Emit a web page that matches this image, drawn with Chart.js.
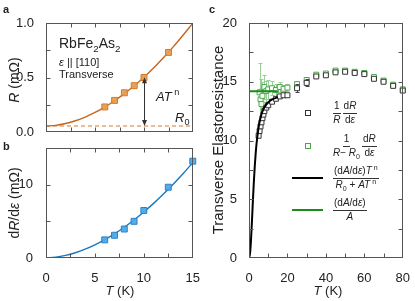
<!DOCTYPE html>
<html><head><meta charset="utf-8">
<script src="https://cdn.jsdelivr.net/npm/chart.js@4.4.1/dist/chart.umd.min.js"></script>
<style>
html,body{margin:0;padding:0;background:#fff;}
body{width:415px;height:301px;position:relative;overflow:hidden;font-family:"Liberation Sans",Arial,sans-serif;color:#222;}
.box{position:absolute;}
.t{position:absolute;white-space:nowrap;line-height:1;font-weight:normal;}
.rt{position:absolute;width:240px;height:16px;line-height:16px;text-align:center;white-space:nowrap;transform:rotate(-90deg);font-weight:normal;}
.ctr{transform:translate(-50%,-50%);}
.vc{transform:translateY(-50%);}
i{font-style:italic;}
sub,sup{font-size:0.7em;line-height:0;}
.fr{display:inline-flex;flex-direction:column;align-items:center;vertical-align:middle;margin-right:2px;}
.fr .n{border-bottom:1px solid #333;padding:0 1px 1px 1px;line-height:1.05;}
.fr .d{line-height:1.05;padding-top:1px;}
.sw{position:absolute;}
</style></head>
<body>
<div class="box" style="left:0;top:0;width:205px;height:145px"><canvas id="ca"></canvas></div>
<div class="box" style="left:0;top:135px;width:205px;height:166px"><canvas id="cb"></canvas></div>
<div class="box" style="left:205px;top:0;width:210px;height:301px"><canvas id="cc"></canvas></div>

<!-- panel labels -->
<div class="t" style="left:3px;top:4px;font-weight:bold;font-size:11px">a</div>
<div class="t" style="left:3px;top:141px;font-weight:bold;font-size:11px">b</div>
<div class="t" style="left:209px;top:4px;font-weight:bold;font-size:11px">c</div>

<!-- panel a annotations -->
<div class="t vc" style="left:59px;top:43px;font-size:14px">RbFe<sub>2</sub>As<sub>2</sub></div>
<div class="t vc" style="left:59px;top:62px;font-size:11px"><i>ε</i> || [110]</div>
<div class="t vc" style="left:59px;top:74px;font-size:11px">Transverse</div>
<div class="t vc" style="left:156px;top:96px;font-size:13px"><i>AT</i><sup> n</sup></div>
<div class="t vc" style="left:175px;top:117px;font-size:13px"><i>R</i><sub>0</sub></div>

<!-- axis titles (rotated boxes centred on integer points) -->
<div class="rt" style="left:-106px;top:72px;font-size:14px"><i>R</i> (mΩ)</div>
<div class="rt" style="left:-106px;top:195px;font-size:14px">d<i>R</i>/d<i>ε</i> (mΩ)</div>
<div class="t ctr" style="left:120px;top:290px;font-size:13px"><i>T</i> (K)</div>
<div class="rt" style="left:98px;top:132px;font-size:15px">Transverse Elastoresistance</div>
<div class="t ctr" style="left:328px;top:290px;font-size:13px"><i>T</i> (K)</div>

<!-- panel c legend -->
<div class="sw" style="left:305px;top:110px;width:4px;height:4px;border:1px solid #333"></div>
<div class="t vc" style="left:333px;top:113px;font-size:10px"><span class="fr"><span class="n">1</span><span class="d"><i>R</i></span></span><span class="fr"><span class="n">d<i>R</i></span><span class="d">d<i>ε</i></span></span></div>
<div class="sw" style="left:305px;top:143px;width:4px;height:4px;border:1px solid #4aa84a"></div>
<div class="t vc" style="left:333px;top:146px;font-size:10px"><span class="fr"><span class="n">1</span><span class="d"><i>R</i>− <i>R</i><sub>0</sub></span></span><span class="fr"><span class="n">d<i>R</i></span><span class="d">d<i>ε</i></span></span></div>
<div class="sw" style="left:292px;top:177px;width:31px;height:2px;background:#000"></div>
<div class="t vc" style="left:333px;top:178px;font-size:10px"><span class="fr"><span class="n">(d<i>A</i>/d<i>ε</i>)<i>T</i><sup> n</sup></span><span class="d"><i>R</i><sub>0</sub> + <i>AT</i><sup> n</sup></span></span></div>
<div class="sw" style="left:292px;top:209px;width:31px;height:2px;background:#1a8c1a"></div>
<div class="t vc" style="left:333px;top:210px;font-size:10px"><span class="fr"><span class="n">(d<i>A</i>/d<i>ε</i>)</span><span class="d"><i>A</i></span></span></div>

<script>
// ---------------- data ----------------
// panel a: resistance R (mΩ) vs T (K)
const aT = [6, 7, 8, 9, 10, 12.5];
const aR = [0.23, 0.29, 0.36, 0.425, 0.50, 0.73];
const aFitT = [0, 1, 2, 3, 4, 5, 6, 7, 8, 9, 10, 11, 12, 13, 14, 15];
const aFitR = [0.055, 0.061, 0.078, 0.103, 0.137, 0.179, 0.229, 0.287, 0.352, 0.424, 0.503, 0.589, 0.683, 0.783, 0.890, 1.0];
const aR0 = 0.055;
const aArrowT = 10;

// panel b: dR/dε (mΩ) vs T (K)
const bT = [6, 7, 8, 9, 10, 12.5, 15];
const bV = [2.47, 3.1, 3.95, 5.0, 6.48, 9.65, 13.2];
const bFitT = [0, 1, 2, 3, 4, 5, 6, 7, 8, 9, 10, 11, 12, 13, 14, 15];
const bFitV = [0, 0.10, 0.35, 0.72, 1.21, 1.80, 2.51, 3.30, 4.20, 5.19, 6.28, 7.45, 8.72, 10.07, 11.50, 13.0];
const bZero = 0;

// panel c: transverse elastoresistance vs T (K)
const cBlackT   = [5, 5.5, 6, 6.5, 7, 7.5, 8, 9, 10, 12, 14, 16, 18, 20, 25, 30, 35, 40, 45, 50, 55, 60, 65, 70, 75, 80];
const cBlackV   = [10.4, 10.8, 11.2, 11.55, 11.9, 12.2, 12.5, 12.8, 13.0, 13.3, 13.55, 13.75, 13.85, 13.85, 14.45, 14.9, 15.45, 15.55, 15.8, 15.85, 15.75, 15.65, 15.25, 15.0, 14.65, 14.25];
const cBlackErr = [0, 0, 0, 0, 0, 0, 0, 0, 0, 0, 0, 0, 0, 0, 0.35, 0.3, 0, 0, 0, 0, 0, 0, 0, 0, 0, 0];
const cGreenT   = [5.5, 6, 6.5, 7, 8, 9, 10, 12, 14, 16, 18, 20, 25, 30, 35, 40, 45, 50, 55, 60, 65, 70, 75, 80];
const cGreenV   = [14.1, 13.5, 13.1, 13.8, 14.55, 14.2, 14.35, 14.45, 14.3, 14.55, 14.4, 14.5, 14.8, 15.15, 15.6, 15.7, 15.95, 15.95, 15.85, 15.75, 15.4, 15.1, 14.75, 14.35];
const cGreenErr = [2.5, 1.7, 1.4, 1.2, 1.0, 0.9, 0.8, 0.6, 0.5, 0.4, 0.35, 0.3, 0.3, 0.25, 0, 0, 0, 0, 0, 0, 0, 0, 0, 0];
const cFitT = [0, 0.5, 1, 1.5, 2, 2.5, 3, 3.5, 4, 5, 6, 7, 8, 10, 12, 15];
const cFitV = [0, 0.34, 1.42, 3.02, 4.77, 6.41, 7.81, 8.95, 9.85, 11.13, 11.94, 12.47, 12.82, 13.26, 13.49, 13.69];
const cLineT = [0, 15];
const cLineV = [14.2, 14.2];

// ---------------- helpers ----------------
const pts = (xs, ys) => xs.map((x, i) => ({x: x, y: ys[i]}));
const tickFont = {family: "'Liberation Sans', Arial, sans-serif", size: 13};

const framePlugin = {
  id: 'frame',
  afterDraw(chart) {
    const {ctx, chartArea: ca, scales} = chart;
    const L = Math.round(ca.left) + 0.5, R = Math.round(ca.right) - 0.5;
    const T = Math.round(ca.top) + 0.5, B = Math.round(ca.bottom) - 0.5;
    ctx.save();
    ctx.strokeStyle = '#555'; ctx.lineWidth = 1;
    ctx.strokeRect(L, T, R - L, B - T);
    const len = 4;
    ctx.beginPath();
    scales.x.ticks.forEach(t => {
      const p = Math.round(scales.x.getPixelForValue(t.value)) + 0.5;
      if (p <= L + 1 || p >= R - 1) return;
      ctx.moveTo(p, B); ctx.lineTo(p, B - len);
      ctx.moveTo(p, T); ctx.lineTo(p, T + len);
    });
    scales.y.ticks.forEach(t => {
      const p = Math.round(scales.y.getPixelForValue(t.value)) + 0.5;
      if (p <= T + 1 || p >= B - 1) return;
      ctx.moveTo(L, p); ctx.lineTo(L + len, p);
      ctx.moveTo(R, p); ctx.lineTo(R - len, p);
    });
    ctx.stroke();
    ctx.restore();
  }
};

const errPlugin = {
  id: 'errbars',
  beforeDatasetDraw(chart, args) {
    const ds = chart.data.datasets[args.index];
    if (!ds.errors) return;
    const ys = chart.scales.y, ctx = chart.ctx;
    ctx.save();
    ctx.strokeStyle = ds.errorColor; ctx.lineWidth = 1;
    ctx.beginPath();
    args.meta.data.forEach((el, i) => {
      const e = ds.errors[i];
      if (!e) return;
      const v = ds.data[i].y;
      const x = Math.round(el.x) + 0.5;
      const y1 = Math.round(ys.getPixelForValue(v + e)) + 0.5;
      const y2 = Math.round(ys.getPixelForValue(v - e)) + 0.5;
      ctx.moveTo(x, y1); ctx.lineTo(x, y2);
      ctx.moveTo(x - 2, y1); ctx.lineTo(x + 2, y1);
      ctx.moveTo(x - 2, y2); ctx.lineTo(x + 2, y2);
    });
    ctx.stroke();
    ctx.restore();
  }
};

const arrowPlugin = {
  id: 'arrow',
  afterDatasetsDraw(chart) {
    const ctx = chart.ctx, xs = chart.scales.x, ys = chart.scales.y;
    const topVal = aFitR[aFitT.indexOf(aArrowT)];
    const x = Math.round(xs.getPixelForValue(aArrowT)) + 0.5;
    const y1 = ys.getPixelForValue(topVal), y2 = ys.getPixelForValue(aR0);
    ctx.save();
    ctx.strokeStyle = '#333'; ctx.fillStyle = '#333'; ctx.lineWidth = 1;
    ctx.beginPath(); ctx.moveTo(x, y1 + 4); ctx.lineTo(x, y2 - 4); ctx.stroke();
    ctx.beginPath(); ctx.moveTo(x, y1); ctx.lineTo(x - 2.5, y1 + 6); ctx.lineTo(x + 2.5, y1 + 6); ctx.closePath(); ctx.fill();
    ctx.beginPath(); ctx.moveTo(x, y2); ctx.lineTo(x - 2.5, y2 - 6); ctx.lineTo(x + 2.5, y2 - 6); ctx.closePath(); ctx.fill();
    ctx.restore();
  }
};

function baseOptions(pad, yW, xH, xCfg, yCfg) {
  return {
    responsive: true, maintainAspectRatio: false, animation: false, devicePixelRatio: 1,
    layout: {padding: pad},
    plugins: {legend: {display: false}, tooltip: {enabled: false}},
    scales: {
      x: Object.assign({type: 'linear', grid: {display: false}, border: {display: false},
           afterFit: s => { s.height = xH; }}, xCfg),
      y: Object.assign({type: 'linear', grid: {display: false}, border: {display: false},
           afterFit: s => { s.width = yW; }}, yCfg)
    }
  };
}

// ---------------- panel a ----------------
new Chart(document.getElementById('ca'), {
  type: 'scatter',
  data: {datasets: [
    {data: pts(aT, aR), pointStyle: 'rect', pointRadius: 4.2, backgroundColor: 'rgba(233,158,78,0.95)',
     borderColor: '#cf7c33', borderWidth: 1, clip: false, order: 0},
    {data: pts(aFitT, aFitR), showLine: true, borderColor: '#c8651e', borderWidth: 1.4, pointRadius: 0,
     cubicInterpolationMode: 'monotone', order: 1},
    {data: [{x: aFitT[0], y: aR0}, {x: aFitT[aFitT.length - 1], y: aR0}], showLine: true,
     borderColor: '#d27b30', borderWidth: 1.2, borderDash: [4, 3], pointRadius: 0, order: 2}
  ]},
  options: baseOptions({left: 0, right: 12, top: 23, bottom: 0}, 46, 13,
    {min: 0, max: 15, ticks: {display: false, stepSize: 2.5, autoSkip: false}},
    {min: 0, max: 1, ticks: {stepSize: 0.25, autoSkip: false, font: tickFont, color: '#222', padding: 4,
      callback: v => (Math.round(v * 4) % 2 === 0) ? v.toFixed(1) : ''}}),
  plugins: [framePlugin, arrowPlugin]
});

// ---------------- panel b ----------------
new Chart(document.getElementById('cb'), {
  type: 'scatter',
  data: {datasets: [
    {data: pts(bT, bV), pointStyle: 'rect', pointRadius: 4.2, backgroundColor: 'rgba(78,170,230,0.95)',
     borderColor: '#2a82c8', borderWidth: 1, clip: false, order: 0},
    {data: pts(bFitT, bFitV), showLine: true, borderColor: '#1a78c0', borderWidth: 1.4, pointRadius: 0,
     cubicInterpolationMode: 'monotone', order: 1},
    {data: [{x: bFitT[0], y: bZero}, {x: bFitT[bFitT.length - 1], y: bZero}], showLine: true,
     borderColor: '#444', borderWidth: 1.2, borderDash: [4, 3], pointRadius: 0, order: 2}
  ]},
  options: baseOptions({left: 0, right: 12, top: 13, bottom: 0}, 46, 43,
    {min: 0, max: 15, ticks: {stepSize: 2.5, autoSkip: false, maxRotation: 0, font: tickFont, color: '#222', padding: 5,
      callback: v => (v % 5 === 0) ? String(v) : ''}},
    {min: 0, max: 15, ticks: {stepSize: 5, autoSkip: false, font: tickFont, color: '#222', padding: 5,
      callback: v => (v === 0 || v === 10) ? String(v) : ''}}),
  plugins: [framePlugin]
});

// ---------------- panel c ----------------
new Chart(document.getElementById('cc'), {
  type: 'scatter',
  data: {datasets: [
    {data: pts(cFitT, cFitV), showLine: true, borderColor: '#000', borderWidth: 2, pointRadius: 0,
     cubicInterpolationMode: 'monotone', order: 0},
    {data: pts(cLineT, cLineV), showLine: true, borderColor: '#1a8c1a', borderWidth: 2, pointRadius: 0, order: 1},
    {data: pts(cBlackT, cBlackV), errors: cBlackErr, errorColor: '#444', pointStyle: 'rect', pointRadius: 3.5,
     backgroundColor: '#fff', borderColor: '#333', borderWidth: 1, clip: false, order: 2},
    {data: pts(cGreenT, cGreenV), errors: cGreenErr, errorColor: '#98d098', pointStyle: 'rect', pointRadius: 3.5,
     backgroundColor: '#fff', borderColor: '#4aa84a', borderWidth: 1, clip: false, order: 3}
  ]},
  options: baseOptions({left: 0, right: 9, top: 23, bottom: 0}, 44, 43,
    {min: 0, max: 80, ticks: {stepSize: 10, autoSkip: false, maxRotation: 0, font: tickFont, color: '#222', padding: 5,
      callback: v => (v % 20 === 0) ? String(v) : ''}},
    {min: 0, max: 20, ticks: {stepSize: 2.5, autoSkip: false, font: tickFont, color: '#222', padding: 4,
      callback: v => (v % 5 === 0) ? String(v) : ''}}),
  plugins: [framePlugin, errPlugin]
});
</script>
</body></html>
